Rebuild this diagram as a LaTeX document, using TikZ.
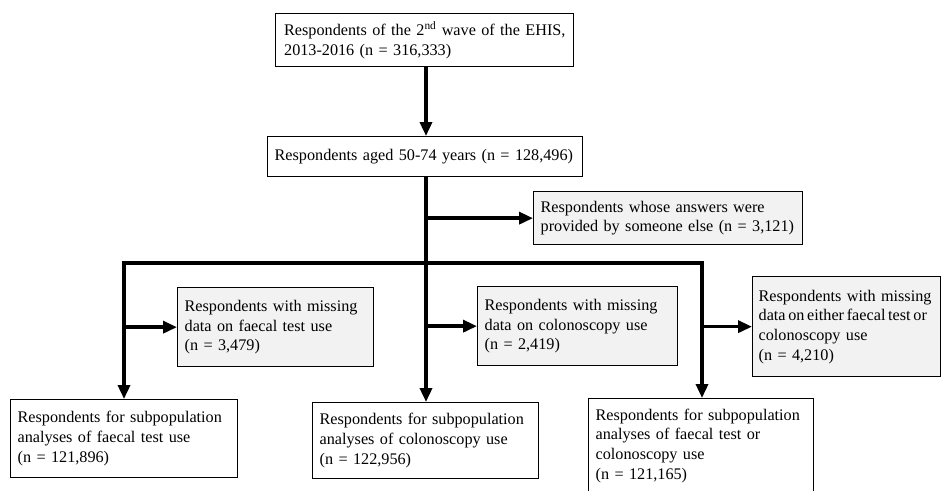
\documentclass[tikz,border=0pt]{standalone}
\usepackage{fontspec}
\setmainfont{Liberation Serif}
\usetikzlibrary{arrows.meta}
\definecolor{boxgray}{RGB}{242,242,242}
\tikzset{
  box/.style={draw=black, line width=1.3pt, fill=white, anchor=north west, align=left,
    inner xsep=7pt, inner ysep=2pt, font=\fontsize{16.2}{19.7}\selectfont},
  graybox/.style={box, fill=boxgray},
  conn/.style={line width=3.4pt, line join=miter},
  arr/.style={conn, -{Triangle[length=14pt,width=12pt]}},
  darr/.style={conn, {Triangle[length=14pt,width=12pt]}-{Triangle[length=14pt,width=12pt]}}
}
\begin{document}
\begin{tikzpicture}[x=1pt,y=-1pt]
\useasboundingbox (0,0) rectangle (941,490);
\clip (0,0) rectangle (941,490);
% boxes
\node[box, inner xsep=8.5pt, text width=281pt, minimum height=53pt] (b1) at (275,13)
  {\mbox{Respondents of the 2\textsuperscript{nd} wave of the EHIS,}\\\mbox{2013-2016 (n = 316,333)}};
\node[box, text width=301pt, minimum height=40pt] (b2) at (267,136)
  {\mbox{Respondents aged 50-74 years (n = 128,496)}};
\node[graybox, text width=255pt, minimum height=53pt] (b3) at (533,191)
  {\mbox{Respondents whose answers were}\\\mbox{provided by someone else (n = 3,121)}};
\node[graybox, text width=182pt, minimum height=79pt] (g1) at (177,287)
  {\mbox{Respondents with missing}\\\mbox{data on faecal test use}\\(n = 3,479)};
\node[graybox, text width=186pt, minimum height=79pt] (g2) at (477,286)
  {\mbox{Respondents with missing}\\\mbox{data on colonoscopy use}\\(n = 2,419)};
\node[graybox, inner xsep=6pt, text width=176pt, minimum height=100pt] (g3) at (752,276)
  {\mbox{Respondents with missing}\\\mbox{\spaceskip=2.7pt data on either faecal test or}\\\mbox{colonoscopy use}\\(n = 4,210)};
\node[box, text width=213pt, minimum height=78pt] (bl) at (10,399)
  {\mbox{Respondents for subpopulation}\\\mbox{analyses of faecal test use}\\(n = 121,896)};
\node[box, text width=212pt, minimum height=76pt] (bm) at (312,402)
  {\mbox{Respondents for subpopulation}\\\mbox{analyses of colonoscopy use}\\(n = 122,956)};
\node[box, text width=211pt, minimum height=94pt] (br) at (588,398)
  {\mbox{Respondents for subpopulation}\\\mbox{analyses of faecal test or}\\\mbox{colonoscopy use}\\(n = 121,165)};
% coordinates
\coordinate (trunk) at (426,0);
\coordinate (hL) at (124,263);
\coordinate (hR) at (702,263);
% connectors
\draw[arr] (b1.south -| trunk) -- (b2.north -| trunk);
\draw[arr] (b2.south -| trunk) -- (bm.north -| trunk);
\draw[arr] (trunk |- b3.west) -- (b3.west);
\draw[darr] (bl.north -| hL) -- (hL) -- (hR) -- (br.north -| hR);
\draw[arr] (hL |- g1.west) -- (g1.west);
\draw[arr] (trunk |- g2.west) -- (g2.west);
\draw[arr] (hR |- g3.west) -- (g3.west);
\end{tikzpicture}
\end{document}
